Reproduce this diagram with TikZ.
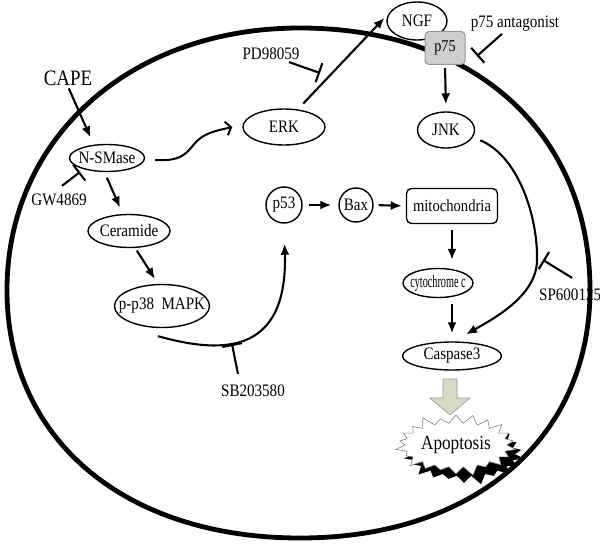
\documentclass[tikz,border=0pt]{standalone}
\usepackage{fontspec}
\usepackage{graphicx}
\setmainfont[FakeStretch=0.86]{Liberation Serif}
\usetikzlibrary{arrows.meta,shapes.geometric,shapes.symbols,shadows,calc}
\definecolor{arrowfill}{RGB}{214,220,196}
\definecolor{arrowedge}{RGB}{150,152,140}
\definecolor{recgray}{RGB}{206,206,206}
\definecolor{recedge}{RGB}{150,150,150}
\newcommand{\zb}[1]{\makebox[0pt]{#1}}
\begin{document}
\begin{tikzpicture}[x=1pt,y=-1pt,
  lbl/.style={font=\fontsize{17.5}{20}\selectfont, inner sep=0pt},
  ell/.style={ellipse, draw, fill=white, line width=1.4pt, inner sep=0pt, font=\fontsize{17.5}{20}\selectfont},
  circ/.style={circle, draw, fill=white, line width=1.4pt, inner sep=0pt, minimum size=#1, font=\fontsize{17.5}{20}\selectfont},
  arr/.style={line width=2.1pt, -{Latex[length=11pt,width=9pt]}},
  inh/.style={line width=2.1pt, -{Bar[width=20pt,line width=2.1pt]}},
  wavy/.style={line width=2pt, -{Straight Barb[length=5pt,width=14pt,line width=2pt]}}
]
\useasboundingbox (0,0) rectangle (600,551);

% cell membrane
\draw[line width=4.8pt] (300,28) .. controls (474,28) and (590,132.8) .. (590,290)
  .. controls (590,438.8) and (474,538) .. (300,538)
  .. controls (124,538) and (7,438.8) .. (7,290)
  .. controls (7,138) and (130,28) .. cycle;

% nodes
\node[font=\fontsize{22}{25}\selectfont, inner sep=1pt] (CAPE) at (68,78) {CAPE};
\node[ell, minimum width=75pt, minimum height=27pt] (NSM) at (107,158) {\zb{N-SMase}};
\node[lbl] (GW) at (59,200) {GW4869};
\node[ell, minimum width=82pt, minimum height=33pt] (Cer) at (129,231) {\zb{Ceramide}};
\node[ell, minimum width=95pt, minimum height=43pt] (pp38) at (162,306) {\zb{p-p38\ \ MAPK}};
\node[ell, minimum width=82pt, minimum height=36pt] (ERK) at (284,127) {\zb{ERK}};
\node[lbl] (PD) at (271,54) {PD98059};
\node[ell, minimum width=60pt, minimum height=38pt] (NGF) at (417,21) {\zb{NGF}};
\node[draw=recedge, fill=recgray, rounded corners=4pt, line width=1pt, minimum width=40pt, minimum height=33pt, inner sep=0pt, font=\fontsize{16.5}{19}\selectfont] (p75) at (445,48) {\zb{p75}};
\node[lbl] (p75ant) at (515,24) {p75 antagonist};
\node[ell, minimum width=57pt, minimum height=36pt] (JNK) at (446,130) {\zb{JNK}};
\node[circ=36pt] (p53) at (284,205) {\zb{p53}};
\node[circ=34pt] (Bax) at (356,205) {\zb{Bax}};
\node[draw, fill=white, rounded corners=5pt, line width=1.4pt, minimum width=91pt, minimum height=35pt, inner sep=0pt, font=\fontsize{17}{20}\selectfont] (mito) at (452,206) {\zb{mitochondria}};
\node[ell, minimum width=70pt, minimum height=29pt] (cyto) at (438,283) {\zb{\scalebox{0.68}[1]{cytochrome c}}};
\node[ell, minimum width=99pt, minimum height=28pt] (Casp) at (452,356) {\zb{Caspase3}};
\node[lbl] (SB) at (253,391) {SB203580};
\node[lbl, anchor=west] (SP) at (539,295) {SP600125};

% inhibition bar positions
\coordinate (gwbar) at (80,172);
\coordinate (pdbar) at (320,73);
\coordinate (p75bar) at (477,56);
\coordinate (sbbar) at (232,344);
\coordinate (spbar) at (543,260);

% activating arrows
\draw[arr, shorten <=2pt, shorten >=8pt] (CAPE.south) -- (NSM.135);
\draw[arr, shorten <=6pt, shorten >=7pt] (NSM.-100) -- (Cer.110);
\draw[arr, shorten <=3pt, shorten >=6pt] (Cer.-70) -- (pp38.100);
\draw[arr, shorten >=20pt] ([xshift=-4pt,yshift=-8pt]pp38.south) .. controls (215,352) and (288,360) .. (p53.south);
\draw[arr, shorten <=6pt, shorten >=7pt] (p53.east) -- (Bax.west);
\draw[arr, shorten <=5pt, shorten >=4pt] (Bax.east) -- (mito.west);
\draw[arr, shorten <=6pt, shorten >=8pt] (mito.south) -- (mito.south |- cyto.north);
\draw[arr, shorten <=6pt, shorten >=8pt] (Casp.north |- cyto.south) -- (Casp.north);
\draw[arr, shorten <=3pt, shorten >=7pt] (p75.south) -- (JNK.north);
\draw[arr, shorten <=8pt, shorten >=6pt] (ERK.52) -- (NGF.165);
\draw[arr, shorten <=8pt] (JNK.-15) .. controls (520,157) and (538,220) .. (537,260)
      .. controls (537,295) and (495,318) .. ([xshift=14pt,yshift=7pt]Casp.north);
\draw[wavy] ([xshift=10pt,yshift=-2pt]NSM.east) .. controls (185,162) and (188,150) .. (197,141)
      .. controls (206,132) and (220,130) .. ([xshift=-10pt]ERK.west);

% inhibitions
\draw[inh] ([xshift=3pt,yshift=8pt]GW.north) -- (gwbar);
\draw[inh] ([xshift=18pt,yshift=-2pt]PD.south) -- (pdbar);
\draw[inh] ([xshift=-13pt,yshift=-2pt]p75ant.south) -- (p75bar);
\draw[inh] ([xshift=-15pt,yshift=11pt]SB.north) -- (sbbar);
\draw[inh] ([xshift=2pt,yshift=11pt]SP.north) -- (spbar);

% block arrow to apoptosis
\draw[draw=arrowedge, fill=arrowfill, line width=0.6pt]
  (443,379) -- (457,379) -- (457,398) -- (470,398) -- (450,415) -- (430,398) -- (443,398) -- cycle;

% apoptosis burst
\node[starburst, draw=gray, fill=white, line width=0.6pt, minimum width=124pt, minimum height=66pt,
      starburst point height=11pt, starburst points=22,
      drop shadow={shadow xshift=8pt, shadow yshift=-9pt, fill=black, opacity=1},
      inner sep=0pt, font=\fontsize{20}{23}\selectfont] (apo) at (456,445) {\zb{Apoptosis}};
\end{tikzpicture}
\end{document}
